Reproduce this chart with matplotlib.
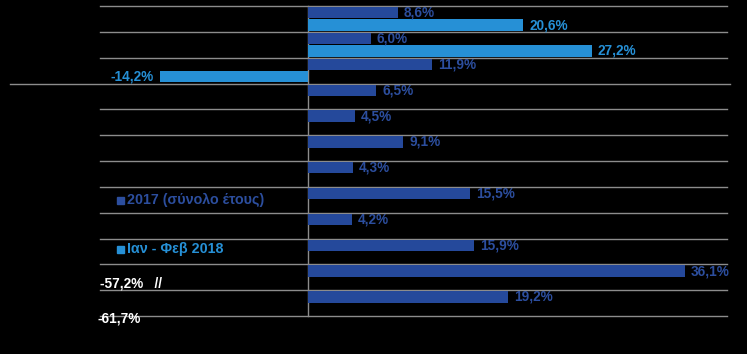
import matplotlib
matplotlib.use("Agg")
import matplotlib.pyplot as plt
import numpy as np

plt.rcParams['font.family'] = ['Liberation Sans', 'DejaVu Sans']

# ---- data ----
rows = list(range(1, 13))
series_2017 = [8.6, 6.0, 11.9, 6.5, 4.5, 9.1, 4.3, 15.5, 4.2, 15.9, 36.1, 19.2]
series_2018 = [20.6, 27.2, -14.2, np.nan, np.nan, np.nan, np.nan, np.nan, np.nan, np.nan, np.nan, np.nan]
truncated_rows = [11, 12]
truncated_2018 = [-57.2, -61.7]
legend_labels = ["2017 (σύνολο έτους)", "Ιαν - Φεβ 2018"]

c_dark = "#25499B"
c_dark_txt = "#2C4E9E"
c_light = "#2690D6"
bg = "#000000"
grid_c = "#8C8C8C"

W, H = 747, 354
fig = plt.figure(figsize=(W / 100, H / 100), dpi=100, facecolor=bg)
ax = fig.add_axes([100 / W, (H - 316) / H, 627 / W, 310 / H])
ax.set_facecolor(bg)

n = len(rows)
y = np.arange(n)
h = 0.44
off = 0.24
fs = 9.8

v17 = np.array(series_2017, dtype=float)
v18 = np.array(series_2018, dtype=float)
ax.barh(y - off, v17, height=h, color=c_dark, zorder=3)
ax.barh(y + off, np.nan_to_num(v18), height=h, color=c_light, zorder=3)

def fmt(v):
    return f"{v:.1f}%".replace(".", ",")

for yi, v in zip(y, v17):
    ax.annotate(fmt(v), (v, yi - off), xytext=(4.5, 0), textcoords="offset points",
                ha="left", va="center", color=c_dark_txt, fontsize=fs, fontweight="bold",
                zorder=4, annotation_clip=False)
for yi, v in zip(y, v18):
    if np.isnan(v):
        continue
    if v >= 0:
        ax.annotate(fmt(v), (v, yi + off), xytext=(4.5, 0), textcoords="offset points",
                    ha="left", va="center", color=c_light, fontsize=fs, fontweight="bold", zorder=4)
    else:
        ax.annotate(fmt(v), (v, yi + off), xytext=(-4.5, 0), textcoords="offset points",
                    ha="right", va="center", color=c_light, fontsize=fs, fontweight="bold", zorder=4)

xmin, xmax = -19.94, 40.17
ax.set_xlim(xmin, xmax)
ax.set_ylim(n - 0.5, -0.5)

# truncated values (white labels)
ax.text(xmin, truncated_rows[0] - 1 + off, fmt(truncated_2018[0]) + "   //", ha="left", va="center",
        color="white", fontsize=fs, fontweight="bold", clip_on=False)
ax.text(xmin - 0.2, truncated_rows[1] - 1 + 0.58, fmt(truncated_2018[1]), ha="left", va="center",
        color="white", fontsize=fs, fontweight="bold", clip_on=False)

# grid lines at row boundaries
for b in np.arange(-0.5, n, 1.0):
    if abs(b - 2.5) < 1e-9:
        ax.plot([-0.1435, 1.0048], [b, b], color=grid_c, lw=1,
                transform=ax.get_yaxis_transform(), clip_on=False, zorder=1)
    else:
        ax.plot([0, 1], [b, b], color=grid_c, lw=1,
                transform=ax.get_yaxis_transform(), clip_on=False, zorder=1)
ax.plot([0, 0], [-0.5, n - 0.5], color=grid_c, lw=1, clip_on=False, zorder=2)

for s in ax.spines.values():
    s.set_visible(False)
ax.set_xticks([])
ax.set_yticks([])

# legend
leg_cols = [c_dark_txt, c_light]
leg_y = [200, 249]
for lab, col, yy in zip(legend_labels, leg_cols, leg_y):
    fig.patches.append(plt.Rectangle((117 / W, (H - yy - 3.5) / H), 6.5 / W, 6.5 / H,
                                     transform=fig.transFigure, color=col, figure=fig))
    fig.text(127 / W, (H - yy) / H, lab, ha="left", va="center", color=col,
             fontsize=10.3, fontweight="bold")

fig.savefig("out.png", dpi=100, facecolor=bg)
